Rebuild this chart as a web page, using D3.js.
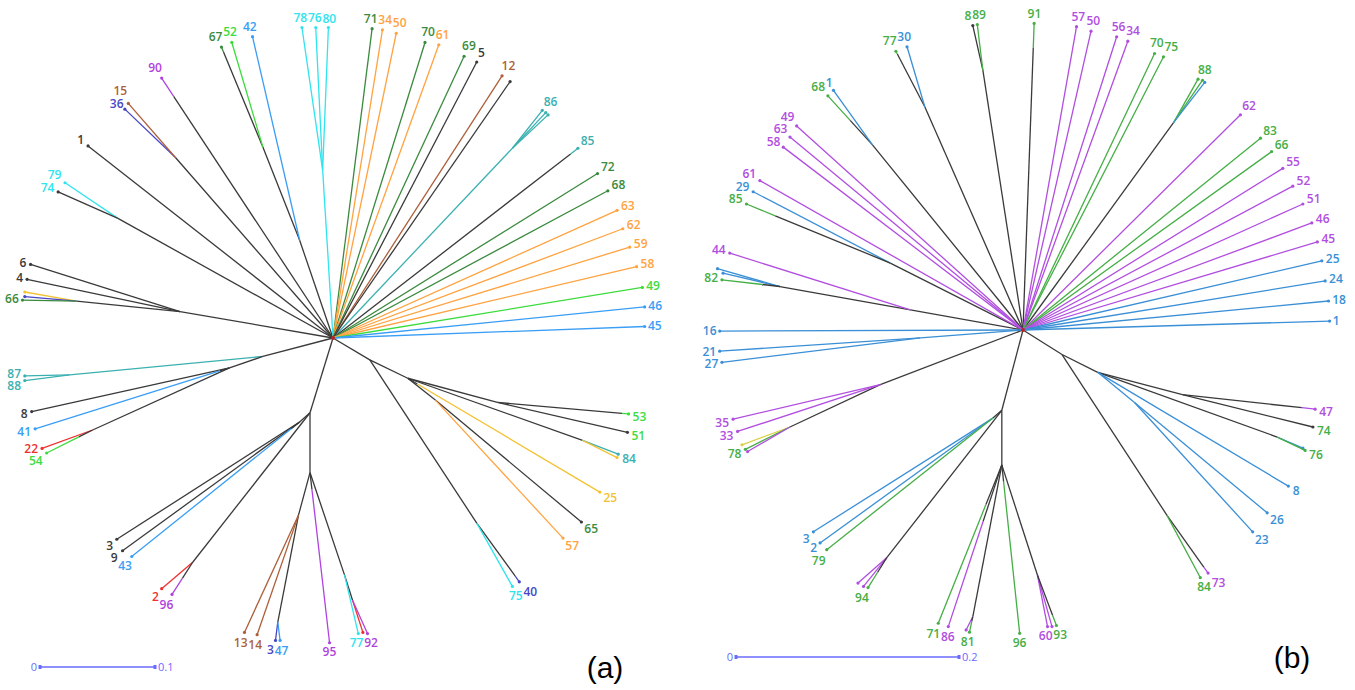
<!DOCTYPE html>
<meta charset="utf-8">
<style>
  body { margin: 0; background: #fff; }
  .lab { font-family: "Open Sans", sans-serif; font-size: 12px; font-weight: 600; }
  .panel { font-family: "Liberation Sans", Arial, sans-serif; font-size: 30px; }
  .bar text { font-family: "Open Sans", sans-serif; font-size: 11px; fill: #6a6aff; }
</style>
<body>
<div id="chart"></div>
<script src="https://cdn.jsdelivr.net/npm/d3@7/dist/d3.min.js"></script>
<script>
// ---- tree (a): internal nodes, x/y in branch-length units from the root
var nodesA = [
  {id: "R", par: null, x: 0, y: 0},
  {id: "a74", par: "R", x: -0.187, y: -0.104},
  {id: "a36", par: "R", x: -0.137, y: -0.157},
  {id: "a67", par: "R", x: -0.029, y: -0.085},
  {id: "a52", par: "a67", x: -0.061, y: -0.166},
  {id: "aCy", par: "R", x: -0.009, y: -0.146, g: "cyan"},
  {id: "a86", par: "R", x: 0.156, y: -0.165, g: "teal"},
  {id: "aI", par: "R", x: -0.133, y: -0.023},
  {id: "aJ", par: "aI", x: -0.223, y: -0.032},
  {id: "aT", par: "R", x: -0.061, y: 0.016},
  {id: "aT2", par: "aT", x: -0.229, y: 0.032, g: "teal"},
  {id: "aF", par: "aT", x: -0.090, y: 0.026},
  {id: "aG", par: "aF", x: -0.209, y: 0.080},
  {id: "aA", par: "R", x: 0.032, y: 0.019},
  {id: "aB", par: "aA", x: 0.065, y: 0.035},
  {id: "aC", par: "aB", x: 0.143, y: 0.056},
  {id: "aD", par: "aB", x: 0.089, y: 0.054},
  {id: "a84", par: "aB", x: 0.217, y: 0.089},
  {id: "a75", par: "aA", x: 0.125, y: 0.161},
  {id: "aE", par: "R", x: -0.020, y: 0.065},
  {id: "aL", par: "aE", x: -0.029, y: 0.073},
  {id: "a96", par: "aE", x: -0.122, y: 0.195},
  {id: "aK", par: "aE", x: -0.020, y: 0.117},
  {id: "aM", par: "aK", x: -0.030, y: 0.154},
  {id: "aN", par: "aM", x: -0.048, y: 0.247},
  {id: "a77", par: "aK", x: 0.010, y: 0.206},
  {id: "a92", par: "a77", x: 0.017, y: 0.228}
];

// leaves: label, group, parent, tip x/y, s = where the coloured part starts (0..1)
var leavesA = [
  {lab: "1", g: "k", par: "R", x: -0.213, y: -0.167, s: 1},
  {lab: "79", g: "cyan", par: "a74", x: -0.233, y: -0.135, s: 0},
  {lab: "74", g: "cyan", par: "a74", x: -0.239, y: -0.127, s: 1},
  {lab: "36", g: "slate", par: "a36", x: -0.181, y: -0.199, s: 0},
  {lab: "15", g: "brown", par: "a36", x: -0.178, y: -0.204, s: 0},
  {lab: "90", g: "purple", par: "R", x: -0.149, y: -0.226, s: 0.93},
  {lab: "67", g: "dkgreen", par: "a52", x: -0.097, y: -0.253, s: 0.95},
  {lab: "52", g: "green", par: "a52", x: -0.088, y: -0.257, s: 0},
  {lab: "42", g: "blue", par: "a67", x: -0.070, y: -0.262, s: 0},
  {lab: "78", g: "cyan", par: "aCy", x: -0.027, y: -0.270, s: 0},
  {lab: "76", g: "cyan", par: "aCy", x: -0.015, y: -0.270, s: 0},
  {lab: "80", g: "cyan", par: "aCy", x: -0.004, y: -0.270, s: 0},
  {lab: "71", g: "dkgreen", par: "R", x: 0.034, y: -0.269, s: 0},
  {lab: "34", g: "orange", par: "R", x: 0.043, y: -0.268, s: 0},
  {lab: "50", g: "orange", par: "R", x: 0.055, y: -0.265, s: 0},
  {lab: "70", g: "dkgreen", par: "R", x: 0.080, y: -0.257, s: 0},
  {lab: "61", g: "orange", par: "R", x: 0.092, y: -0.255, s: 0},
  {lab: "69", g: "dkgreen", par: "R", x: 0.114, y: -0.245, s: 0},
  {lab: "5", g: "k", par: "R", x: 0.125, y: -0.240, s: 1},
  {lab: "12", g: "brown", par: "R", x: 0.147, y: -0.228, s: 0},
  {lab: "", g: "k", par: "R", x: 0.154, y: -0.223, s: 1},
  {lab: "86", g: "teal", par: "a86", x: 0.182, y: -0.198, s: 0},
  {lab: "", g: "teal", par: "a86", x: 0.185, y: -0.196, s: 0},
  {lab: "", g: "teal", par: "a86", x: 0.187, y: -0.194, s: 0},
  {lab: "85", g: "teal", par: "R", x: 0.213, y: -0.165, s: 0.97},
  {lab: "72", g: "dkgreen", par: "R", x: 0.230, y: -0.143, s: 0},
  {lab: "68", g: "dkgreen", par: "R", x: 0.239, y: -0.128, s: 0},
  {lab: "63", g: "orange", par: "R", x: 0.247, y: -0.111, s: 0},
  {lab: "62", g: "orange", par: "R", x: 0.252, y: -0.095, s: 0},
  {lab: "59", g: "orange", par: "R", x: 0.258, y: -0.079, s: 0},
  {lab: "58", g: "orange", par: "R", x: 0.264, y: -0.062, s: 0},
  {lab: "49", g: "green", par: "R", x: 0.269, y: -0.044, s: 0},
  {lab: "46", g: "blue", par: "R", x: 0.271, y: -0.027, s: 0},
  {lab: "45", g: "blue", par: "R", x: 0.271, y: -0.010, s: 0},
  {lab: "53", g: "green", par: "aC", x: 0.257, y: 0.066, s: 0.95},
  {lab: "51", g: "green", par: "aC", x: 0.256, y: 0.082, s: 1},
  {lab: "84", g: "teal", par: "a84", x: 0.248, y: 0.101, s: 0},
  {lab: "", g: "yellow", par: "a84", x: 0.247, y: 0.104, s: 0},
  {lab: "25", g: "yellow", par: "aB", x: 0.232, y: 0.134, s: 0.05},
  {lab: "65", g: "dkgreen", par: "aD", x: 0.216, y: 0.160, s: 1},
  {lab: "57", g: "orange", par: "aD", x: 0.200, y: 0.174, s: 0},
  {lab: "40", g: "slate", par: "a75", x: 0.162, y: 0.212, s: 0.9},
  {lab: "75", g: "cyan", par: "a75", x: 0.156, y: 0.216, s: 0},
  {lab: "6", g: "k", par: "aI", x: -0.263, y: -0.064, s: 1},
  {lab: "4", g: "k", par: "aI", x: -0.266, y: -0.051, s: 1},
  {lab: "", g: "yellow", par: "aJ", x: -0.268, y: -0.040, s: 0},
  {lab: "", g: "slate", par: "aJ", x: -0.268, y: -0.036, s: 0},
  {lab: "66", g: "dkgreen", par: "aJ", x: -0.270, y: -0.033, s: 0},
  {lab: "87", g: "teal", par: "aT2", x: -0.268, y: 0.033, s: 0},
  {lab: "88", g: "teal", par: "aT2", x: -0.268, y: 0.037, s: 0},
  {lab: "8", g: "k", par: "aF", x: -0.262, y: 0.064, s: 1},
  {lab: "41", g: "blue", par: "aF", x: -0.259, y: 0.079, s: 0.05},
  {lab: "22", g: "red", par: "aG", x: -0.253, y: 0.096, s: 0},
  {lab: "54", g: "green", par: "aG", x: -0.249, y: 0.100, s: 0.3},
  {lab: "3", g: "k", par: "aL", x: -0.188, y: 0.175, s: 1},
  {lab: "9", g: "k", par: "aL", x: -0.183, y: 0.185, s: 1},
  {lab: "43", g: "blue", par: "aL", x: -0.175, y: 0.190, s: 0.05},
  {lab: "2", g: "red", par: "a96", x: -0.149, y: 0.218, s: 0},
  {lab: "96", g: "purple", par: "a96", x: -0.140, y: 0.223, s: 0.5},
  {lab: "13", g: "brown", par: "aM", x: -0.077, y: 0.256, s: 0},
  {lab: "14", g: "brown", par: "aM", x: -0.066, y: 0.258, s: 0},
  {lab: "3", g: "slate", par: "aN", x: -0.050, y: 0.263, s: 0},
  {lab: "47", g: "blue", par: "aN", x: -0.046, y: 0.263, s: 0},
  {lab: "95", g: "purple", par: "aK", x: -0.003, y: 0.265, s: 0.1},
  {lab: "77", g: "cyan", par: "a77", x: 0.022, y: 0.257, s: 0},
  {lab: "", g: "red", par: "a92", x: 0.026, y: 0.256, s: 0},
  {lab: "92", g: "purple", par: "a92", x: 0.030, y: 0.257, s: 0}
];

// ---- tree (b)
var nodesB = [
  {id: "R", par: null, x: 0, y: 0},
  {id: "b30", par: "R", x: -0.088, y: -0.200},
  {id: "b89", par: "R", x: -0.036, y: -0.233},
  {id: "b68", par: "R", x: -0.135, y: -0.166},
  {id: "b85", par: "R", x: -0.119, y: -0.060},
  {id: "bP", par: "R", x: -0.101, y: -0.018},
  {id: "bQ", par: "bP", x: -0.218, y: -0.039},
  {id: "b21", par: "R", x: -0.092, y: 0.007, g: "blue"},
  {id: "b35", par: "R", x: -0.128, y: 0.049},
  {id: "b78", par: "b35", x: -0.209, y: 0.087},
  {id: "b88", par: "R", x: 0.135, y: -0.186},
  {id: "bA", par: "R", x: 0.035, y: 0.022},
  {id: "bB", par: "bA", x: 0.067, y: 0.038},
  {id: "b47", par: "bB", x: 0.143, y: 0.058},
  {id: "b76", par: "bB", x: 0.228, y: 0.096},
  {id: "b23", par: "bB", x: 0.100, y: 0.065, g: "blue"},
  {id: "b84", par: "bA", x: 0.129, y: 0.166},
  {id: "bE", par: "R", x: -0.019, y: 0.072},
  {id: "bL", par: "bE", x: -0.027, y: 0.079},
  {id: "b94", par: "bE", x: -0.122, y: 0.204},
  {id: "bK", par: "bE", x: -0.019, y: 0.121},
  {id: "b81", par: "bK", x: -0.045, y: 0.257},
  {id: "b93", par: "bK", x: 0.013, y: 0.220}
];

var leavesB = [
  {lab: "77", g: "green", par: "b30", x: -0.114, y: -0.250, s: 0.95},
  {lab: "30", g: "blue", par: "b30", x: -0.104, y: -0.254, s: 0},
  {lab: "8", g: "green", par: "b89", x: -0.045, y: -0.273, s: 1},
  {lab: "89", g: "green", par: "b89", x: -0.041, y: -0.274, s: 0},
  {lab: "91", g: "green", par: "R", x: 0.010, y: -0.275, s: 0.92},
  {lab: "68", g: "green", par: "b68", x: -0.175, y: -0.210, s: 0.5},
  {lab: "1", g: "blue", par: "b68", x: -0.170, y: -0.215, s: 0},
  {lab: "49", g: "purple", par: "R", x: -0.203, y: -0.183, s: 0},
  {lab: "63", g: "purple", par: "R", x: -0.209, y: -0.173, s: 0},
  {lab: "58", g: "purple", par: "R", x: -0.215, y: -0.164, s: 0},
  {lab: "61", g: "purple", par: "R", x: -0.236, y: -0.134, s: 0},
  {lab: "29", g: "blue", par: "b85", x: -0.242, y: -0.124, s: 0},
  {lab: "85", g: "green", par: "b85", x: -0.248, y: -0.113, s: 0.8},
  {lab: "44", g: "purple", par: "bP", x: -0.263, y: -0.069, s: 0},
  {lab: "", g: "blue", par: "bQ", x: -0.274, y: -0.055, s: 0},
  {lab: "", g: "blue", par: "bQ", x: -0.269, y: -0.051, s: 0},
  {lab: "82", g: "green", par: "bQ", x: -0.270, y: -0.045, s: 0.3},
  {lab: "16", g: "blue", par: "R", x: -0.272, y: 0.001, s: 0},
  {lab: "21", g: "blue", par: "b21", x: -0.272, y: 0.019, s: 0},
  {lab: "27", g: "blue", par: "b21", x: -0.270, y: 0.029, s: 0},
  {lab: "35", g: "purple", par: "b35", x: -0.260, y: 0.080, s: 0},
  {lab: "33", g: "purple", par: "b35", x: -0.256, y: 0.091, s: 0},
  {lab: "", g: "yellow", par: "b78", x: -0.252, y: 0.103, s: 0},
  {lab: "78", g: "green", par: "b78", x: -0.249, y: 0.107, s: 0},
  {lab: "", g: "purple", par: "b78", x: -0.247, y: 0.109, s: 0},
  {lab: "57", g: "purple", par: "R", x: 0.048, y: -0.272, s: 0},
  {lab: "50", g: "purple", par: "R", x: 0.061, y: -0.268, s: 0},
  {lab: "56", g: "purple", par: "R", x: 0.084, y: -0.263, s: 0},
  {lab: "34", g: "purple", par: "R", x: 0.094, y: -0.259, s: 0},
  {lab: "70", g: "green", par: "R", x: 0.118, y: -0.248, s: 0},
  {lab: "75", g: "green", par: "R", x: 0.126, y: -0.245, s: 0},
  {lab: "88", g: "green", par: "b88", x: 0.157, y: -0.225, s: 0},
  {lab: "", g: "green", par: "b88", x: 0.161, y: -0.224, s: 0},
  {lab: "", g: "blue", par: "b88", x: 0.163, y: -0.222, s: 0},
  {lab: "62", g: "purple", par: "R", x: 0.195, y: -0.193, s: 0},
  {lab: "83", g: "green", par: "R", x: 0.213, y: -0.172, s: 0},
  {lab: "66", g: "green", par: "R", x: 0.223, y: -0.160, s: 0},
  {lab: "55", g: "purple", par: "R", x: 0.233, y: -0.145, s: 0},
  {lab: "52", g: "purple", par: "R", x: 0.242, y: -0.129, s: 0},
  {lab: "51", g: "purple", par: "R", x: 0.251, y: -0.113, s: 0},
  {lab: "46", g: "purple", par: "R", x: 0.259, y: -0.096, s: 0},
  {lab: "45", g: "purple", par: "R", x: 0.264, y: -0.079, s: 0},
  {lab: "25", g: "blue", par: "R", x: 0.268, y: -0.062, s: 0},
  {lab: "24", g: "blue", par: "R", x: 0.271, y: -0.044, s: 0},
  {lab: "18", g: "blue", par: "R", x: 0.274, y: -0.026, s: 0},
  {lab: "1", g: "blue", par: "R", x: 0.275, y: -0.008, s: 0},
  {lab: "47", g: "purple", par: "b47", x: 0.262, y: 0.071, s: 0.9},
  {lab: "74", g: "green", par: "b47", x: 0.260, y: 0.087, s: 1},
  {lab: "", g: "blue", par: "b76", x: 0.251, y: 0.106, s: 0},
  {lab: "76", g: "green", par: "b76", x: 0.253, y: 0.108, s: 0},
  {lab: "8", g: "blue", par: "bB", x: 0.238, y: 0.140, s: 0},
  {lab: "26", g: "blue", par: "b23", x: 0.219, y: 0.164, s: 0},
  {lab: "23", g: "blue", par: "b23", x: 0.206, y: 0.181, s: 0},
  {lab: "73", g: "purple", par: "b84", x: 0.166, y: 0.218, s: 0.9},
  {lab: "84", g: "green", par: "b84", x: 0.159, y: 0.222, s: 0},
  {lab: "3", g: "blue", par: "bL", x: -0.188, y: 0.181, s: 0},
  {lab: "2", g: "blue", par: "bL", x: -0.182, y: 0.191, s: 0},
  {lab: "79", g: "green", par: "bL", x: -0.176, y: 0.197, s: 0},
  {lab: "", g: "purple", par: "b94", x: -0.148, y: 0.227, s: 0},
  {lab: "", g: "purple", par: "b94", x: -0.143, y: 0.230, s: 0},
  {lab: "94", g: "green", par: "b94", x: -0.139, y: 0.231, s: 0.5},
  {lab: "71", g: "green", par: "bK", x: -0.076, y: 0.263, s: 0.25},
  {lab: "86", g: "purple", par: "bK", x: -0.067, y: 0.266, s: 0.35},
  {lab: "", g: "purple", par: "b81", x: -0.051, y: 0.269, s: 0},
  {lab: "81", g: "green", par: "b81", x: -0.048, y: 0.271, s: 0.3},
  {lab: "96", g: "green", par: "bK", x: -0.003, y: 0.272, s: 0.1},
  {lab: "60", g: "purple", par: "b93", x: 0.022, y: 0.266, s: 0},
  {lab: "", g: "purple", par: "b93", x: 0.026, y: 0.266, s: 0},
  {lab: "93", g: "green", par: "b93", x: 0.030, y: 0.265, s: 0.8}
];

var groupsA = ["k", "cyan", "teal", "dkgreen", "green", "orange", "yellow", "blue", "slate", "purple", "brown", "red"];
var groupsB = ["k", "purple", "green", "blue", "yellow"];
var barTicksA = [0, 0.1];
var barTicksB = [0, 0.2];
var panelLabels = ["(a)", "(b)"];

var colourA = d3.scaleOrdinal().domain(groupsA)
  .range(["#3a3a3a", "#2fe4ee", "#3bb0b0", "#3a8a3e", "#3ddc3d", "#ffa340", "#f3c232", "#3a9ef5", "#4646c6", "#b043de", "#ad5f3a", "#f03030"]);
var colourB = d3.scaleOrdinal().domain(groupsB)
  .range(["#3a3a3a", "#b14ee0", "#45ae45", "#3a8fd6", "#d9d040"]);

var svg = d3.select("#chart").append("svg")
  .attr("width", 1355)
  .attr("height", 690);

function drawTree(nodes, leaves, colour, cx, cy, unit, px, ticks, barX, barY, panel, panelX) {
  var x = d3.scaleLinear().domain([0, unit]).range([cx, cx + px]),
      y = d3.scaleLinear().domain([0, unit]).range([cy, cy + px]);
  var byId = {};
  nodes.forEach(function (d) { byId[d.id] = d; });
  var g = svg.append("g");
  var dark = colour("k");

  // internal branches
  nodes.filter(function (d) { return d.par; }).forEach(function (d) {
    var p = byId[d.par];
    g.append("line")
      .attr("x1", x(p.x)).attr("y1", y(p.y))
      .attr("x2", x(d.x)).attr("y2", y(d.y))
      .attr("stroke", d.g ? colour(d.g) : dark)
      .attr("stroke-width", 1.3);
  });

  // leaf branches: dark part then coloured part
  leaves.forEach(function (d) {
    var p = byId[d.par];
    var sx = p.x + (d.x - p.x) * d.s, sy = p.y + (d.y - p.y) * d.s;
    if (d.s > 0) {
      g.append("line")
        .attr("x1", x(p.x)).attr("y1", y(p.y))
        .attr("x2", x(sx)).attr("y2", y(sy))
        .attr("stroke", dark).attr("stroke-width", 1.3);
    }
    if (d.s < 1) {
      g.append("line")
        .attr("x1", x(sx)).attr("y1", y(sy))
        .attr("x2", x(d.x)).attr("y2", y(d.y))
        .attr("stroke", colour(d.g)).attr("stroke-width", 1.3);
    }
    g.append("circle")
      .attr("cx", x(d.x)).attr("cy", y(d.y)).attr("r", 1.6)
      .attr("fill", d.s < 1 ? colour(d.g) : dark);
  });

  // label boxes pushed outward from the root, then nudged apart
  var labs = leaves.filter(function (d) { return d.lab; }).map(function (d) {
    var a = Math.atan2(d.y, d.x), w = d.lab.length * 7, h = 12;
    var off = 3 + Math.abs(Math.cos(a)) * w / 2 + Math.abs(Math.sin(a)) * 6;
    return {d: d, w: w, h: h, cx: x(d.x) + Math.cos(a) * off, cy: y(d.y) + Math.sin(a) * off};
  });
  for (var it = 0; it < 80; it++) {
    for (var i = 0; i < labs.length; i++) {
      for (var j = i + 1; j < labs.length; j++) {
        var p = labs[i], q = labs[j];
        var dx = q.cx - p.cx, dy = q.cy - p.cy;
        var ox = (p.w + q.w) / 2 + 0.5 - Math.abs(dx), oy = (p.h + q.h) / 2 + 0.5 - Math.abs(dy);
        if (ox > 0 && oy > 0) {
          if (ox < oy) {
            var sx2 = (dx >= 0 ? 1 : -1) * ox / 2;
            p.cx -= sx2; q.cx += sx2;
          } else {
            var sy2 = (dy >= 0 ? 1 : -1) * oy / 2;
            p.cy -= sy2; q.cy += sy2;
          }
        }
      }
    }
  }
  g.selectAll("text.lab")
    .data(labs)
    .enter().append("text")
    .attr("class", "lab")
    .attr("text-anchor", "middle")
    .attr("dy", "0.35em")
    .attr("fill", function (l) { return colour(l.d.g); })
    .attr("x", function (l) { return l.cx; })
    .attr("y", function (l) { return l.cy; })
    .text(function (l) { return l.d.lab; });

  g.append("circle").attr("cx", x(0)).attr("cy", y(0)).attr("r", 2).attr("fill", "#c02020");

  // scale bar
  var bx = d3.scaleLinear().domain(ticks).range([barX, barX + px * ticks[1] / unit]);
  var bar = svg.append("g").attr("class", "bar");
  bar.append("line")
    .attr("x1", bx(ticks[0])).attr("x2", bx(ticks[1]))
    .attr("y1", barY).attr("y2", barY)
    .attr("stroke", "#6a6aff").attr("stroke-width", 1.5);
  bar.selectAll("rect").data(ticks).enter().append("rect")
    .attr("x", function (d) { return bx(d) - 1.5; })
    .attr("y", barY - 2).attr("width", 3).attr("height", 4)
    .attr("fill", "#6a6aff");
  bar.selectAll("text").data(ticks).enter().append("text")
    .attr("x", function (d, i) { return bx(d) + (i ? 3 : -3); })
    .attr("y", barY)
    .attr("dy", "0.35em")
    .attr("text-anchor", function (d, i) { return i ? "start" : "end"; })
    .text(function (d) { return d; });

  svg.append("text").attr("class", "panel")
    .attr("x", panelX).attr("y", barY + 11)
    .attr("text-anchor", "middle")
    .text(panel);
}

drawTree(nodesA, leavesA, colourA, 333, 338, 0.1, 115, barTicksA, 40, 667, panelLabels[0], 605);
drawTree(nodesB, leavesB, colourB, 1023, 330, 0.1, 111.5, barTicksB, 736, 657, panelLabels[1], 1292);
</script>
</body>
